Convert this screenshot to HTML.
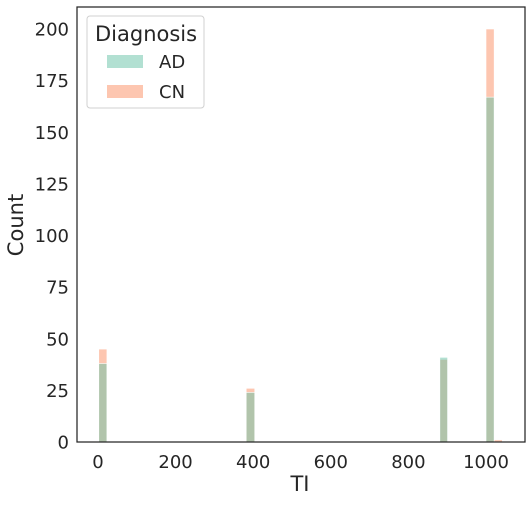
<!DOCTYPE html>
<html><head><meta charset="utf-8"><style>
body{margin:0;background:#fff;font-family:"DejaVu Sans","Liberation Sans",sans-serif}
text{font-family:"DejaVu Sans","Liberation Sans",sans-serif;fill:#262626}
</style></head><body>
<svg id="chart" width="531" height="501" viewBox="0 0 531 501" xmlns="http://www.w3.org/2000/svg">
<g id="marks"></g><g id="axes"></g>
</svg>
<script>
const binStarts=[2,382,881,1000,1021];
const binEnds=[23,404,901,1021,1042];
const adCounts=[38,24,41,167,0];
const cnCounts=[45,26,40,200,1];
const xTicks=[0,200,400,600,800,1000];
const yTicks=[0,25,50,75,100,125,150,175,200];
const L=77,R=525,T=7,B=442;
const xs=v=>98+v*0.388;
const ys=v=>B-v*2.065;
const NS="http://www.w3.org/2000/svg";
const marks=document.getElementById('marks'),axes=document.getElementById('axes');
function mk(tag,attrs,parent){const e=document.createElementNS(NS,tag);for(const k in attrs)e.setAttribute(k,attrs[k]);parent.appendChild(e);return e;}
function bars(counts,color,name){
 counts.forEach((c,i)=>{if(c<=0)return;
  const r=mk('rect',{x:xs(binStarts[i]),y:ys(c),width:xs(binEnds[i])-xs(binStarts[i]),height:B-ys(c),fill:color,'fill-opacity':0.5,stroke:'#fff','stroke-width':0.6},marks);
  
  });
}
bars(cnCounts,'#fc8d62','cn');
bars(adCounts,'#66c2a5','ad');
const frame=mk('rect',{x:L,y:T,width:R-L,height:B-T,fill:'none',stroke:'#262626','stroke-width':1.25},axes);


xTicks.forEach(v=>{const t=mk('text',{x:xs(v),y:468,'font-size':18,'text-anchor':'middle'},axes);t.textContent=v;
 
 });
yTicks.forEach(v=>{const t=mk('text',{x:69,y:ys(v)+6.5,'font-size':18,'text-anchor':'end'},axes);t.textContent=v;
 
 });
</script>
<svg style="position:absolute;left:0;top:0" width="531" height="501">
<text x="300" y="491" font-size="21" text-anchor="middle">TI</text>
<text transform="translate(23,225) rotate(-90)" font-size="21" text-anchor="middle">Count</text>
<g>
<rect x="87" y="16" width="117" height="92" rx="3" fill="#fff" fill-opacity="0.8" stroke="#d0d0d0"/>
<text x="95" y="41" font-size="21">Diagnosis</text>
<rect x="107" y="55" width="36" height="13" fill="#66c2a5" fill-opacity="0.5"/>
<text x="159" y="68" font-size="18">AD</text>
<rect x="107" y="85" width="36" height="13" fill="#fc8d62" fill-opacity="0.5"/>
<text x="159" y="98" font-size="18">CN</text>
</g>
</svg>
</body></html>
